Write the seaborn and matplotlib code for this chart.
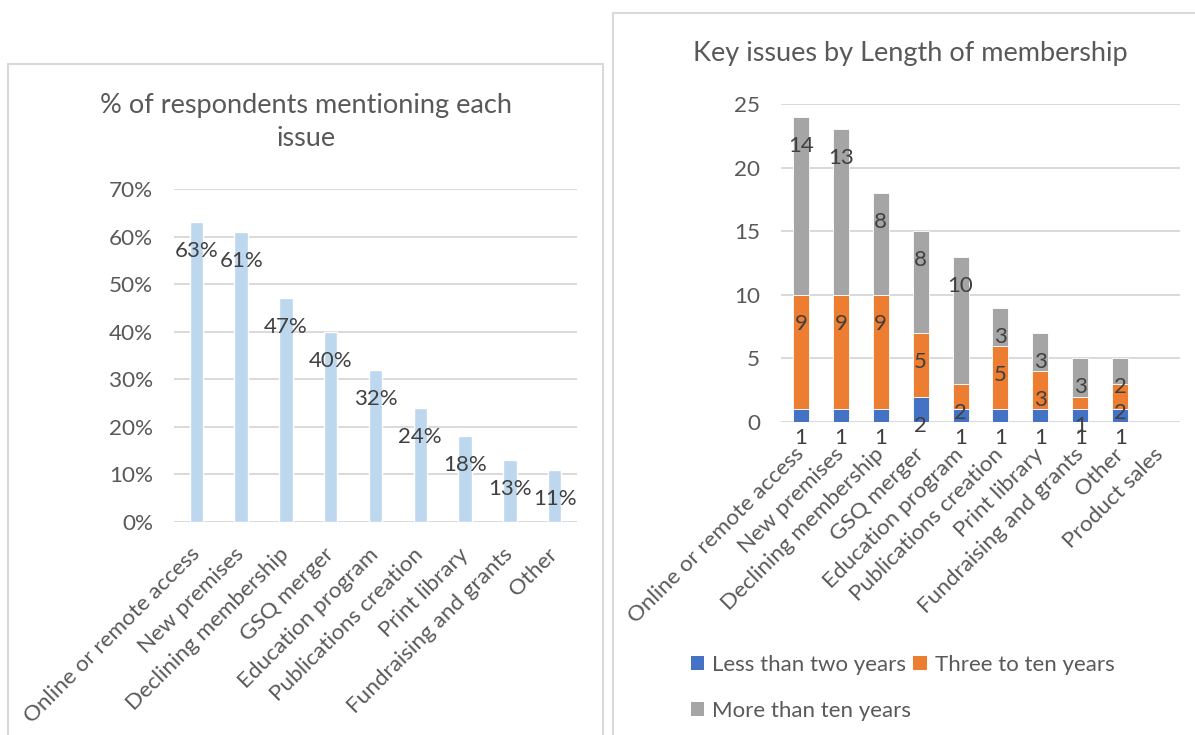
import matplotlib
matplotlib.use("Agg")
import matplotlib.pyplot as plt
import seaborn as sns
import pandas as pd
from matplotlib.patches import Rectangle, Patch
from matplotlib.ticker import FuncFormatter

# ---------------- data ----------------
issues = ["Online or remote access", "New premises", "Declining membership",
          "GSQ merger", "Education program", "Publications creation",
          "Print library", "Fundraising and grants", "Other"]
pct_mentioning = [63, 61, 47, 40, 32, 24, 18, 13, 11]
pct_ticks = [0, 10, 20, 30, 40, 50, 60, 70]

issues_by_length = issues + ["Product sales"]
less_than_two = [1, 1, 1, 2, 1, 1, 1, 1, 1, 0]
three_to_ten = [9, 9, 9, 5, 2, 5, 3, 1, 2, 0]
more_than_ten = [14, 13, 8, 8, 10, 3, 3, 3, 2, 0]
count_ticks = [0, 5, 10, 15, 20, 25]
series_names = ["Less than two years", "Three to ten years", "More than ten years"]

left_title = "% of respondents mentioning each\nissue"
right_title = "Key issues by Length of membership"

# ---------------- style ----------------
sns.set_theme(style="white")
plt.rcParams["font.family"] = ["Lato", "DejaVu Sans"]

W, H = 1195, 735
DPI = 100
TICK_C = "#595959"
LABEL_C = "#404040"
GRID_C = "#D9D9D9"
BORDER_C = "#D9D9D9"
FS_TICK = 16.2
FS_LAB = 16
FS_TITLE = 19.5
COL_LEFT = "#BDD7EE"
COLS = ["#4472C4", "#ED7D31", "#A5A5A5"]

fig = plt.figure(figsize=(W / DPI, H / DPI), dpi=DPI)
fig.patch.set_facecolor("white")


def fbox(x0, y0, x1, y1):
    """pixel box (top-left origin) -> figure fraction rect"""
    return [x0 / W, 1 - y1 / H, (x1 - x0) / W, (y1 - y0) / H]


# panel borders
for (x0, y0, x1, y1) in [(8, 64, 603, 760), (613, 13, 1230, 760)]:
    r = Rectangle((x0 / W, 1 - y1 / H), (x1 - x0) / W, (y1 - y0) / H,
                  transform=fig.transFigure, fill=False,
                  edgecolor=BORDER_C, linewidth=1.5, clip_on=False)
    fig.add_artist(r)


def style_axes(ax, ticks, fmt):
    ax.set_yticks(ticks)
    ax.set_ylim(ticks[0], ticks[-1])
    ax.yaxis.set_major_formatter(FuncFormatter(fmt))
    ax.grid(axis="y", color=GRID_C, linewidth=1.4)
    ax.grid(axis="x", visible=False)
    ax.set_axisbelow(True)
    for s in ax.spines.values():
        s.set_visible(False)
    ax.tick_params(axis="y", length=0, pad=15, labelsize=FS_TICK, labelcolor=TICK_C)
    ax.tick_params(axis="x", length=0, pad=21, labelsize=FS_TICK, labelcolor=TICK_C)
    for lab in ax.get_xticklabels():
        lab.set_rotation(45)
        lab.set_ha("right")
        lab.set_va("center")
        lab.set_rotation_mode("anchor")
    ax.set_xlabel("")
    ax.set_ylabel("")
    ax.set_facecolor("none")


# ---------------- left chart ----------------
axL = fig.add_axes(fbox(174, 189, 577, 522))
dfL = pd.DataFrame({"issue": issues, "pct": pct_mentioning})
sns.barplot(data=dfL, x="issue", y="pct", order=issues, color=COL_LEFT,
            saturation=1, width=0.3, errorbar=None, ax=axL)
style_axes(axL, pct_ticks, lambda v, p: f"{int(v)}%")
for i, v in enumerate(pct_mentioning):
    axL.annotate(f"{v}%", (i, v), xytext=(0, -29), textcoords="offset pixels",
                 ha="center", va="center", fontsize=FS_LAB, color=LABEL_C)
fig.text(306 / W, 1 - 122 / H, left_title, ha="center", va="center",
         fontsize=FS_TITLE, color=TICK_C, linespacing=1.45)

# ---------------- right chart ----------------
axR = fig.add_axes(fbox(781, 104, 1180, 422))
dfR = pd.DataFrame({"issue": issues_by_length,
                    series_names[0]: less_than_two,
                    series_names[1]: three_to_ten,
                    series_names[2]: more_than_ten})
bottom = [0] * len(issues_by_length)
for name, col in zip(series_names, COLS):
    vals = dfR[name].tolist()
    sns.barplot(data=dfR, x="issue", y=name, order=issues_by_length, color=col,
                saturation=1, width=0.4, errorbar=None, ax=axR,
                bottom=bottom, edgecolor="white", linewidth=0.6)
    tops = [b + v for b, v in zip(bottom, vals)]
    for i, (v, t) in enumerate(zip(vals, tops)):
        if v > 0:
            axR.annotate(f"{v}", (i, t), xytext=(0, -29), textcoords="offset pixels",
                         ha="center", va="center", fontsize=FS_LAB,
                         color=LABEL_C, annotation_clip=False)
    bottom = tops
style_axes(axR, count_ticks, lambda v, p: f"{int(v)}")
axR.set_xlim(-0.5, len(issues_by_length) - 0.5)
fig.text(910 / W, 1 - 53 / H, right_title, ha="center", va="center",
         fontsize=FS_TITLE, color=TICK_C)

handles = [Patch(facecolor=COLS[0], edgecolor="none"),
           Patch(facecolor=COLS[2], edgecolor="none"),
           Patch(facecolor=COLS[1], edgecolor="none")]
labels = [series_names[0], series_names[2], series_names[1]]
fig.legend(handles, labels, loc="upper left",
           bbox_to_anchor=(680 / W, 1 - 644 / H), ncol=2, frameon=False,
           fontsize=FS_LAB, labelcolor=TICK_C, handlelength=0.6,
           handleheight=0.6, handletextpad=0.35, columnspacing=0.1,
           labelspacing=1.15, borderpad=0)

fig.savefig("out.png", dpi=DPI, facecolor="white")
